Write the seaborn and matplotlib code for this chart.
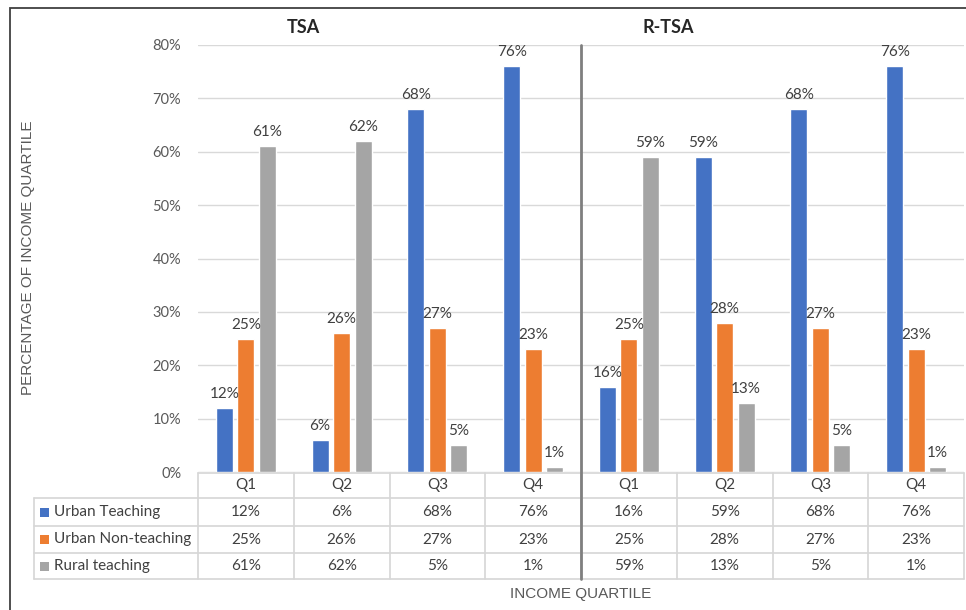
import pandas as pd
import matplotlib.pyplot as plt
import matplotlib.transforms as mtransforms
from matplotlib.patches import Rectangle
from matplotlib.lines import Line2D
import seaborn as sns

# Data
quartiles = ["Q1", "Q2", "Q3", "Q4", "Q1", "Q2", "Q3", "Q4"]
schemes = ["TSA", "TSA", "TSA", "TSA", "R-TSA", "R-TSA", "R-TSA", "R-TSA"]
urban_teaching = [12, 6, 68, 76, 16, 59, 68, 76]
urban_non_teaching = [25, 26, 27, 23, 25, 28, 27, 23]
rural_teaching = [61, 62, 5, 1, 59, 13, 5, 1]

series_names = ["Urban Teaching", "Urban Non-teaching", "Rural teaching"]
series_values = [urban_teaching, urban_non_teaching, rural_teaching]
colors = ["#4472C4", "#ED7D31", "#A5A5A5"]

groups = [f"{s} {q}" for s, q in zip(schemes, quartiles)]
rows = []
for name, vals in zip(series_names, series_values):
    for g, v in zip(groups, vals):
        rows.append({"group": g, "series": name, "value": v})
df = pd.DataFrame(rows)

sns.set_theme(style="white")
plt.rcParams["font.family"] = ["Lato", "DejaVu Sans"]

W, H = 966, 610
fig = plt.figure(figsize=(W / 100, H / 100), dpi=100)
ax = fig.add_axes([198 / W, (H - 472) / H, 766 / W, 427 / H])

sns.barplot(data=df, x="group", y="value", hue="series", order=groups,
            hue_order=series_names, palette=colors, width=0.675, gap=0.21,
            saturation=1, legend=False, ax=ax)

for cont in ax.containers:
    ax.bar_label(cont, fmt="{:.0f}%", padding=5, fontsize=11, color="#404040")

ax.set_ylim(0, 80)
ax.set_xlim(-0.5, 7.5)
ax.set_yticks(range(0, 81, 10))
ax.set_yticklabels([f"{t}%" for t in range(0, 81, 10)], fontsize=10.5, color="#595959")
ax.tick_params(axis="y", length=0, pad=12)
ax.set_xticks([])
ax.set_xlabel("")
ax.set_ylabel("")
ax.yaxis.grid(True, color="#d9d9d9", lw=1)
ax.set_axisbelow(True)
for sp in ax.spines.values():
    sp.set_visible(False)

# Section titles
trans = mtransforms.blended_transform_factory(ax.transData, ax.transAxes)
ax.text(0.6, 1.04, "TSA", transform=trans, ha="center", va="center",
        fontsize=13, fontweight="bold", color="#262626")
ax.text(4.41, 1.04, "R-TSA", transform=trans, ha="center", va="center",
        fontsize=13, fontweight="bold", color="#262626")

# Data table under the bars
def yfrac(px):
    return (472 - px) / 427

row_edges = [473, 498, 526, 553, 579]
label_left = (34 - 198) / 95.75 - 0.5
grid_c = "#d6d6d6"
# horizontal lines
ax.add_line(Line2D([-0.5, 7.5], [yfrac(473)] * 2, transform=trans, color=grid_c,
                   lw=1.2, clip_on=False))
for px in row_edges[1:]:
    ax.add_line(Line2D([label_left, 7.5], [yfrac(px)] * 2, transform=trans,
                       color=grid_c, lw=1.2, clip_on=False))
# vertical lines
for i in range(9):
    ax.add_line(Line2D([i - 0.5, i - 0.5], [yfrac(473), yfrac(579)], transform=trans,
                       color=grid_c, lw=1.2, clip_on=False))
ax.add_line(Line2D([label_left, label_left], [yfrac(498), yfrac(579)], transform=trans,
                   color=grid_c, lw=1.2, clip_on=False))

# header row
yc = yfrac((473 + 498) / 2)
for i, q in enumerate(quartiles):
    ax.text(i, yc, q, transform=trans, ha="center", va="center", fontsize=11,
            color="#404040")
# value rows
for r, (name, vals, c) in enumerate(zip(series_names, series_values, colors)):
    yc = yfrac((row_edges[r + 1] + row_edges[r + 2]) / 2)
    for i, v in enumerate(vals):
        ax.text(i, yc, f"{v}%", transform=trans, ha="center", va="center",
                fontsize=11, color="#404040")
    fig.add_artist(Rectangle((40 / W, (H - (row_edges[r + 1] + row_edges[r + 2]) / 2 - 4.5) / H),
                             9 / W, 9 / H, color=c, lw=0))
    fig.text(54 / W, (H - (row_edges[r + 1] + row_edges[r + 2]) / 2) / H, name,
             ha="left", va="center", fontsize=11, color="#404040")

# divider between TSA and R-TSA
ax.add_line(Line2D([3.5, 3.5], [1.0, yfrac(579)], transform=trans, color="#7f7f7f",
                   lw=2, clip_on=False))

# axis titles
fig.text(28 / W, (H - 258) / H, "PERCENTAGE OF INCOME QUARTILE", rotation=90,
         ha="center", va="center", fontsize=11, color="#595959",
         family=["Liberation Sans", "DejaVu Sans"])
fig.text(581 / W, (H - 594) / H, "INCOME QUARTILE", ha="center", va="center",
         fontsize=11, color="#595959", family=["Liberation Sans", "DejaVu Sans"])

# outer frame
fig.add_artist(Rectangle((10 / W, -0.05), 1.0, (H - 8) / H + 0.05, fill=False,
                         edgecolor="#404040", lw=1.3))

fig.savefig("out.png", dpi=100)
